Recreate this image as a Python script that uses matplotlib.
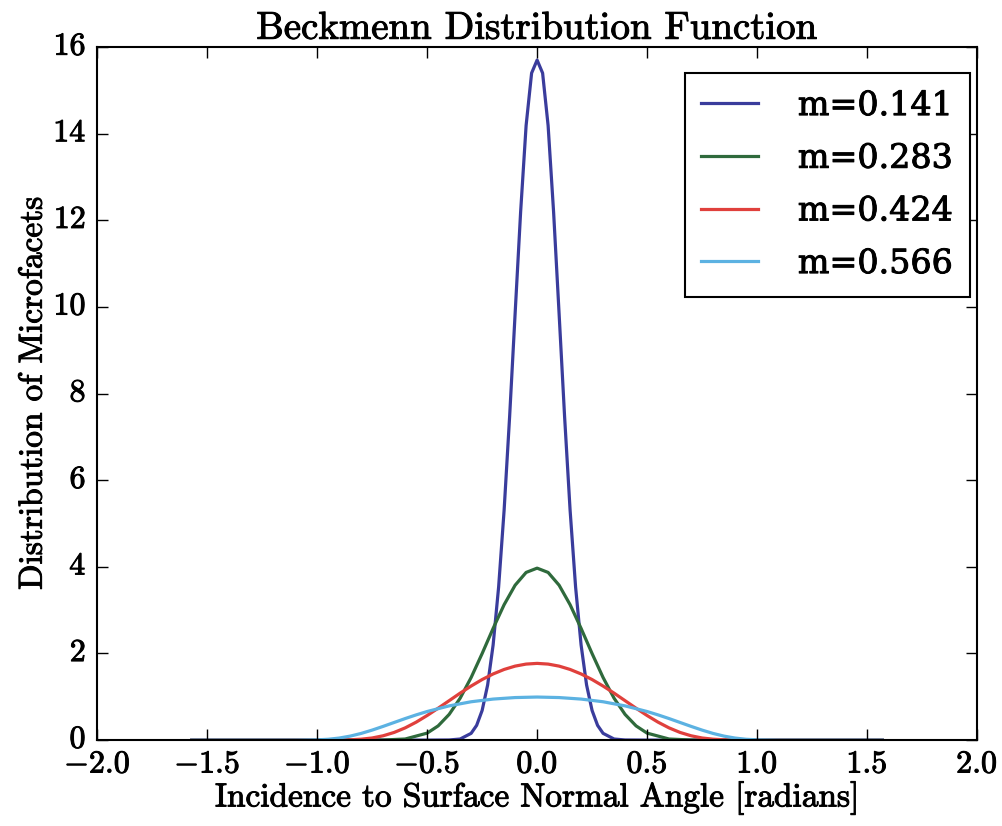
import matplotlib
matplotlib.use('Agg')
import matplotlib.pyplot as plt
import matplotlib.patheffects as pe

plt.style.use('classic')
plt.rcParams['font.family'] = 'serif'
plt.rcParams['font.serif'] = ['cmr10', 'DejaVu Serif']
plt.rcParams['mathtext.fontset'] = 'cm'
plt.rcParams['axes.formatter.use_mathtext'] = True
plt.rcParams['figure.facecolor'] = 'white'

labels = ['m=0.141', 'm=0.283', 'm=0.424', 'm=0.566']
colors = ['#3a3c9c', '#2f6a3c', '#e0403c', '#5cb2e2']

# distribution values over the incidence angle, one table per roughness
x1 = [-1.57, -0.5, -0.4, -0.35, -0.3, -0.275, -0.25, -0.225, -0.2, -0.175, -0.15,
      -0.125, -0.1, -0.075, -0.05, -0.025, 0.0, 0.025, 0.05, 0.075, 0.1, 0.125,
      0.15, 0.175, 0.2, 0.225, 0.25, 0.275, 0.3, 0.35, 0.4, 0.5, 1.57]
y1 = [0.0, 0.0, 0.003, 0.025, 0.156, 0.34, 0.684, 1.272, 2.197, 3.534, 5.309,
      7.467, 9.845, 12.19, 14.19, 15.4, 15.7, 15.4, 14.19, 12.19, 9.845, 7.467,
      5.309, 3.534, 2.197, 1.272, 0.684, 0.34, 0.156, 0.025, 0.003, 0.0, 0.0]

x2 = [-1.57, -0.8, -0.7, -0.6, -0.5, -0.45, -0.4, -0.35, -0.3, -0.25, -0.2, -0.15,
      -0.1, -0.05, 0.0, 0.05, 0.1, 0.15, 0.2, 0.25, 0.3, 0.35, 0.4, 0.45, 0.5,
      0.6, 0.7, 0.8, 1.57]
y2 = [0.0, 0.0, 0.002, 0.025, 0.161, 0.328, 0.593, 0.967, 1.445, 1.998, 2.579, 3.126,
      3.576, 3.871, 3.97, 3.871, 3.576, 3.126, 2.579, 1.998, 1.445, 0.967, 0.593,
      0.328, 0.161, 0.025, 0.002, 0.0, 0.0]

x3 = [-1.57, -1.0, -0.9, -0.85, -0.8, -0.75, -0.7, -0.65, -0.6, -0.55, -0.5, -0.45,
      -0.4, -0.35, -0.3, -0.25, -0.2, -0.15, -0.1, -0.05, 0.0, 0.05, 0.1, 0.15, 0.2,
      0.25, 0.3, 0.35, 0.4, 0.45, 0.5, 0.55, 0.6, 0.65, 0.7, 0.75, 0.8, 0.85, 0.9,
      1.0, 1.57]
y3 = [0.0, 0.0, 0.002, 0.007, 0.021, 0.049, 0.1, 0.177, 0.282, 0.414, 0.568, 0.736,
      0.91, 1.084, 1.248, 1.398, 1.527, 1.631, 1.708, 1.755, 1.771, 1.755, 1.708,
      1.631, 1.527, 1.398, 1.248, 1.084, 0.91, 0.736, 0.568, 0.414, 0.282, 0.177,
      0.1, 0.049, 0.021, 0.007, 0.002, 0.0, 0.0]

x4 = [-1.57, -1.1, -1.0, -0.95, -0.9, -0.85, -0.8, -0.75, -0.7, -0.65, -0.6, -0.55,
      -0.5, -0.4, -0.3, -0.2, -0.1, 0.0, 0.1, 0.2, 0.3, 0.4, 0.5, 0.55, 0.6, 0.65,
      0.7, 0.75, 0.8, 0.85, 0.9, 0.95, 1.0, 1.1, 1.57]
y4 = [0.0, 0.0, 0.006, 0.019, 0.047, 0.092, 0.154, 0.231, 0.317, 0.407, 0.497, 0.582,
      0.66, 0.79, 0.885, 0.947, 0.982, 0.994, 0.982, 0.947, 0.885, 0.79, 0.66, 0.582,
      0.497, 0.407, 0.317, 0.231, 0.154, 0.092, 0.047, 0.019, 0.006, 0.0, 0.0]

series = [(x1, y1), (x2, y2), (x3, y3), (x4, y4)]

fig = plt.figure(figsize=(10.03, 8.26), dpi=100)
ax = fig.add_axes([0.097, 0.104, 0.877, 0.839])

for (xs, ys), lab, c in zip(series, labels, colors):
    ax.plot(xs, ys, color=c, lw=2.3, label=lab)

ax.set_xlim(-2, 2)
ax.set_ylim(0, 16)
ax.set_xticks([-2.0, -1.5, -1.0, -0.5, 0.0, 0.5, 1.0, 1.5, 2.0])
ax.set_yticks(range(0, 17, 2))
ax.tick_params(labelsize=23, length=8, width=1, pad=8)
for s in ax.spines.values():
    s.set_linewidth(1.5)

ax.set_title('Beckmenn Distribution Function', fontsize=28, pad=6)
ax.set_xlabel('Incidence to Surface Normal Angle [radians]', fontsize=24, labelpad=2)
ax.set_ylabel('Distribution of Microfacets', fontsize=24, labelpad=4)

leg = ax.legend(loc='upper right', bbox_to_anchor=(0.992, 0.962), borderaxespad=0,
                prop={'family': 'DejaVu Serif', 'size': 24},
                handlelength=1.7, labelspacing=0.62, handletextpad=1.2,
                borderpad=0.5, fancybox=False, frameon=True, numpoints=1)
leg.get_frame().set_edgecolor('black')
leg.get_frame().set_linewidth(1.5)

# heavier strokes on all text
texts = [ax.title, ax.xaxis.label, ax.yaxis.label] + leg.get_texts()
texts += ax.get_xticklabels() + ax.get_yticklabels()
for t in texts:
    t.set_path_effects([pe.withStroke(linewidth=0.7, foreground='black')])

fig.savefig('out.png', dpi=100, facecolor='white')
